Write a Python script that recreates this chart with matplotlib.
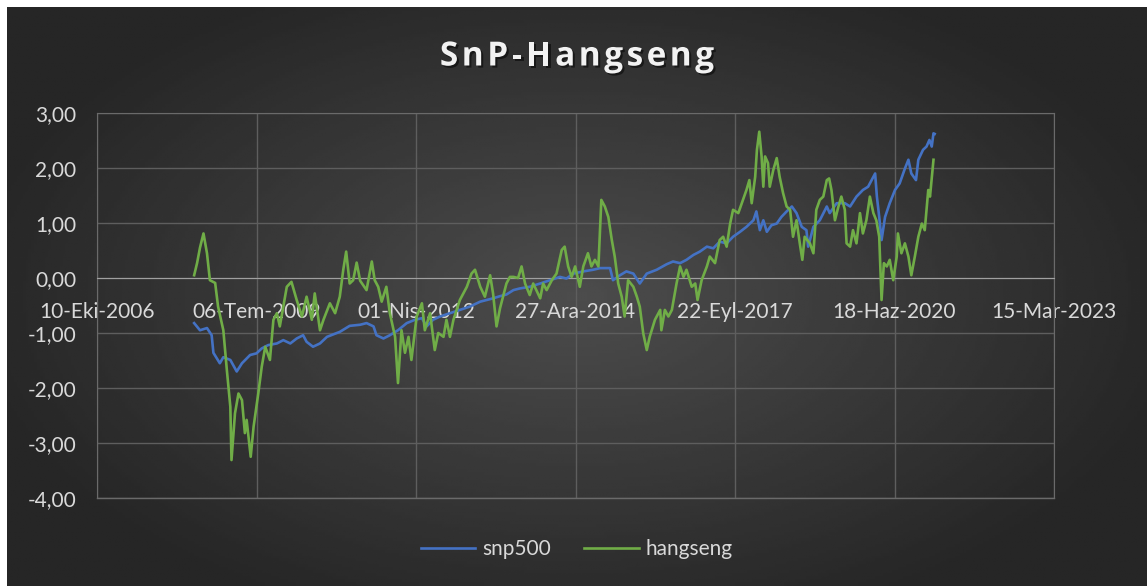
import calendar
import numpy as np
import pandas as pd
import matplotlib
matplotlib.use("Agg")
import matplotlib.pyplot as plt
import matplotlib.dates as mdates
import matplotlib.patheffects as pe
from matplotlib.ticker import FuncFormatter

plt.rcParams['font.family'] = ['Lato', 'DejaVu Sans']

# === Data (decimal years) ===
snp_t = [2008.44, 2008.54, 2008.66, 2008.74, 2008.77, 2008.88, 2008.94, 2009.06, 2009.17, 2009.26,
         2009.40, 2009.51, 2009.60, 2009.71, 2009.86, 2009.97, 2010.09, 2010.20, 2010.31, 2010.37,
         2010.48, 2010.60, 2010.72, 2010.89, 2010.94, 2011.11, 2011.29, 2011.40, 2011.52, 2011.57,
         2011.69, 2011.80, 2011.94, 2012.09, 2012.23, 2012.35, 2012.43, 2012.54, 2012.66, 2012.83,
         2013.00, 2013.17, 2013.35, 2013.46, 2013.57, 2013.69, 2013.80, 2013.92, 2014.03, 2014.20,
         2014.38, 2014.55, 2014.72, 2014.83, 2014.95, 2015.12, 2015.29, 2015.41, 2015.58, 2015.63,
         2015.75, 2015.86, 2015.98, 2016.09, 2016.21, 2016.38, 2016.55, 2016.66, 2016.78, 2016.89,
         2017.01, 2017.12, 2017.24, 2017.35, 2017.46, 2017.58, 2017.69, 2017.81, 2017.92, 2018.04,
         2018.09, 2018.15, 2018.21, 2018.27, 2018.35, 2018.44, 2018.52, 2018.61, 2018.70, 2018.78,
         2018.87, 2018.95, 2018.98, 2019.07, 2019.18, 2019.30, 2019.35, 2019.47, 2019.61, 2019.70,
         2019.81, 2019.92, 2020.01, 2020.07, 2020.13, 2020.16, 2020.20, 2020.24, 2020.30, 2020.38,
         2020.47, 2020.55, 2020.64, 2020.70, 2020.75, 2020.83, 2020.87, 2020.95, 2021.01, 2021.06,
         2021.10, 2021.13, 2021.15]
snp_v = [-0.82, -0.95, -0.91, -1.04, -1.36, -1.55, -1.44, -1.49, -1.70, -1.55,
         -1.40, -1.37, -1.28, -1.22, -1.19, -1.13, -1.19, -1.10, -1.04, -1.16,
         -1.25, -1.19, -1.07, -1.00, -0.98, -0.87, -0.85, -0.82, -0.88, -1.04,
         -1.10, -1.04, -0.95, -0.82, -0.76, -0.73, -0.88, -0.76, -0.70, -0.64,
         -0.58, -0.52, -0.43, -0.40, -0.37, -0.33, -0.30, -0.22, -0.19, -0.16,
         -0.10, -0.04, 0.02, -0.01, 0.08, 0.12, 0.15, 0.18, 0.18, -0.04,
         0.05, 0.12, 0.08, -0.10, 0.08, 0.15, 0.25, 0.30, 0.27, 0.33,
         0.42, 0.48, 0.57, 0.54, 0.66, 0.63, 0.75, 0.84, 0.93, 1.05,
         1.21, 0.87, 1.05, 0.84, 0.96, 0.99, 1.11, 1.21, 1.30, 1.18,
         0.93, 0.87, 0.57, 0.93, 1.05, 1.30, 1.18, 1.36, 1.36, 1.30,
         1.48, 1.60, 1.66, 1.78, 1.90, 1.48, 1.11, 0.69, 1.11, 1.36,
         1.60, 1.72, 1.99, 2.15, 1.90, 1.78, 2.15, 2.33, 2.39, 2.51,
         2.39, 2.63, 2.62]

hs_t = [2008.44, 2008.49, 2008.54, 2008.60, 2008.66, 2008.71, 2008.80, 2008.85, 2008.94, 2009.00,
        2009.06, 2009.08, 2009.14, 2009.20, 2009.26, 2009.31, 2009.34, 2009.41, 2009.46, 2009.54,
        2009.60, 2009.66, 2009.74, 2009.80, 2009.86, 2009.91, 2010.03, 2010.11, 2010.20, 2010.29,
        2010.37, 2010.46, 2010.51, 2010.60, 2010.66, 2010.77, 2010.86, 2010.94, 2011.00, 2011.05,
        2011.11, 2011.17, 2011.23, 2011.29, 2011.40, 2011.49, 2011.54, 2011.60, 2011.66, 2011.74,
        2011.80, 2011.89, 2011.94, 2012.00, 2012.06, 2012.12, 2012.17, 2012.26, 2012.35, 2012.40,
        2012.49, 2012.57, 2012.63, 2012.72, 2012.77, 2012.83, 2012.89, 2013.00, 2013.12, 2013.20,
        2013.26, 2013.35, 2013.43, 2013.52, 2013.57, 2013.63, 2013.69, 2013.80, 2013.86, 2013.92,
        2014.00, 2014.06, 2014.12, 2014.20, 2014.26, 2014.38, 2014.43, 2014.49, 2014.58, 2014.66,
        2014.75, 2014.80, 2014.86, 2014.92, 2014.98, 2015.06, 2015.12, 2015.20, 2015.26, 2015.32,
        2015.38, 2015.43, 2015.49, 2015.55, 2015.61, 2015.66, 2015.72, 2015.78, 2015.83, 2015.89,
        2015.98, 2016.04, 2016.09, 2016.15, 2016.21, 2016.26, 2016.35, 2016.44, 2016.46, 2016.52,
        2016.58, 2016.64, 2016.72, 2016.78, 2016.84, 2016.89, 2016.98, 2017.04, 2017.08, 2017.15,
        2017.24, 2017.29, 2017.38, 2017.46, 2017.52, 2017.58, 2017.64, 2017.69, 2017.78, 2017.86,
        2017.92, 2017.97, 2018.01, 2018.07, 2018.10, 2018.14, 2018.18, 2018.21, 2018.24, 2018.29,
        2018.32, 2018.38, 2018.44, 2018.49, 2018.55, 2018.61, 2018.67, 2018.72, 2018.78, 2018.84,
        2018.88, 2018.92, 2019.01, 2019.07, 2019.12, 2019.18, 2019.24, 2019.30, 2019.34, 2019.38,
        2019.44, 2019.50, 2019.55, 2019.61, 2019.64, 2019.70, 2019.75, 2019.81, 2019.87, 2019.92,
        2019.98, 2020.04, 2020.10, 2020.15, 2020.20, 2020.24, 2020.28, 2020.33, 2020.38, 2020.44,
        2020.50, 2020.52, 2020.58, 2020.64, 2020.70, 2020.75, 2020.81, 2020.87, 2020.93, 2020.98,
        2021.04, 2021.07, 2021.13]
hs_v = [0.05, 0.27, 0.55, 0.81, 0.45, -0.04, -0.09, -0.52, -0.95, -1.67,
        -2.34, -3.31, -2.46, -2.10, -2.22, -2.82, -2.58, -3.25, -2.70, -2.10,
        -1.61, -1.25, -1.49, -0.76, -0.64, -0.88, -0.16, -0.07, -0.40, -0.70,
        -0.34, -0.76, -0.28, -0.95, -0.76, -0.46, -0.64, -0.34, 0.15, 0.48,
        -0.10, -0.04, 0.28, -0.05, -0.22, 0.30, -0.04, -0.16, -0.43, -0.16,
        -0.64, -1.07, -1.91, -0.95, -1.36, -1.07, -1.49, -0.70, -0.46, -0.95,
        -0.64, -1.31, -1.00, -1.07, -0.76, -1.07, -0.76, -0.40, -0.16, 0.08,
        0.15, -0.16, -0.34, 0.05, -0.28, -0.88, -0.55, -0.10, 0.02, 0.02,
        0.00, 0.21, -0.10, -0.31, -0.10, -0.37, -0.10, -0.22, -0.04, 0.08,
        0.51, 0.57, 0.21, 0.02, 0.21, -0.16, 0.21, 0.45, 0.21, 0.33,
        0.21, 1.42, 1.30, 1.11, 0.69, 0.39, -0.10, -0.34, -0.70, -0.04,
        -0.16, -0.34, -0.52, -1.01, -1.31, -1.07, -0.76, -0.58, -0.95, -0.58,
        -0.70, -0.58, -0.10, 0.21, 0.02, 0.15, -0.16, -0.10, -0.40, -0.04,
        0.21, 0.39, 0.27, 0.69, 0.75, 0.57, 0.99, 1.24, 1.18, 1.42,
        1.60, 1.78, 1.36, 1.84, 2.33, 2.66, 2.21, 1.66, 2.21, 2.09,
        1.66, 1.96, 2.18, 1.84, 1.54, 1.30, 1.24, 0.75, 1.05, 0.60,
        0.33, 0.75, 0.63, 0.45, 1.24, 1.42, 1.48, 1.78, 1.81, 1.60,
        1.05, 1.30, 1.48, 1.24, 0.63, 0.57, 0.87, 0.63, 1.18, 0.81,
        1.05, 1.48, 1.18, 1.05, 0.75, -0.40, 0.27, 0.21, 0.33, -0.04,
        0.39, 0.81, 0.45, 0.63, 0.39, 0.05, 0.39, 0.75, 0.99, 0.87,
        1.60, 1.48, 2.15]

tr_months = ["Oca", "Şub", "Mar", "Nis", "May", "Haz", "Tem", "Ağu", "Eyl", "Eki", "Kas", "Ara"]
y_ticks = [-4, -3, -2, -1, 0, 1, 2, 3]
title = "SnP-Hangseng"


def to_dates(dec_years):
    out = []
    for d in dec_years:
        y = int(d)
        n = 366 if calendar.isleap(y) else 365
        out.append(pd.Timestamp(y, 1, 1) + pd.Timedelta(days=(d - y) * n))
    return out


snp_dates = to_dates(snp_t)
hs_dates = to_dates(hs_t)

# === Figure & background ===
W, H = 1147, 586
fig = plt.figure(figsize=(W / 100, H / 100), dpi=100, facecolor="white")

bg = fig.add_axes([7 / W, 0, 1 - 7 / W, 1 - 7 / H])
gx, gy = np.meshgrid(np.linspace(-1, 1, 400), np.linspace(-1, 1, 200))
r = np.sqrt((gx * 1.0) ** 2 + (gy * 0.9) ** 2)
shade = np.clip(0.30 - 0.14 * r, 0.15, 0.30)
bg.imshow(shade, cmap="gray", vmin=0, vmax=1, aspect="auto", extent=[0, 1, 0, 1])
bg.set_axis_off()

ax = fig.add_axes([97 / W, 88 / H, (1054 - 97) / W, (498 - 113) / H])
ax.patch.set_alpha(0)

ax.plot(snp_dates, snp_v, color="#4472C4", lw=1.9, label="snp500", zorder=3)
ax.plot(hs_dates, hs_v, color="#70AD47", lw=1.9, label="hangseng", zorder=3)

x0 = mdates.date2num(pd.Timestamp(2006, 10, 10))
ax.set_xlim(x0, x0 + 6000)
ax.set_ylim(-4, 3)
ax.set_xticks(x0 + np.arange(0, 6001, 1000))
ax.set_yticks(y_ticks)


def fmt_date(x, pos):
    d = mdates.num2date(x)
    return f"{d.day:02d}-{tr_months[d.month - 1]}-{d.year}"


ax.xaxis.set_major_formatter(FuncFormatter(fmt_date))
ax.yaxis.set_major_formatter(FuncFormatter(lambda v, pos: f"{v:.2f}".replace(".", ",")))

ax.grid(True, color="#5e5e5e", lw=1)
ax.set_axisbelow(True)
for s in ["top", "right", "left"]:
    ax.spines[s].set_color("#6a6a6a")
ax.spines["bottom"].set_position(("data", 0))
ax.spines["bottom"].set_color("#a0a0a0")
ax.plot([0, 1], [0, 0], transform=ax.transAxes, color="#6a6a6a", lw=1, clip_on=False)
ax.tick_params(axis="both", length=0, colors="#d9d9d9", labelsize=15)
ax.tick_params(axis="x", pad=17)
ax.tick_params(axis="y", pad=15)

# title with expanded letter spacing (drawn char by char)
renderer = fig.canvas.get_renderer()
tkw = dict(fontsize=24, fontweight="bold", color="#f2f2f2", family=["Open Sans", "DejaVu Sans"],
           va="center", ha="left",
           path_effects=[pe.withSimplePatchShadow(offset=(1.5, -1.5), shadow_rgbFace="black", alpha=0.5)])
widths = []
for ch in title:
    t = fig.text(0, 0, ch.replace(" ", "_"), **tkw)
    widths.append(t.get_window_extent(renderer).width)
    t.remove()
spacing = 3.5
total = sum(widths) + spacing * (len(title) - 1)
xpos = 577 - total / 2
for ch, w in zip(title, widths):
    fig.text(xpos / W, 1 - 57 / H, ch, **tkw)
    xpos += w + spacing

fig.legend(loc="center", bbox_to_anchor=(0.503, 0.063), ncol=2, frameon=False,
           fontsize=15, labelcolor="#d9d9d9", handlelength=2.6, columnspacing=1.6,
           handletextpad=0.35)

fig.savefig("out.png", dpi=100, facecolor=fig.get_facecolor())
